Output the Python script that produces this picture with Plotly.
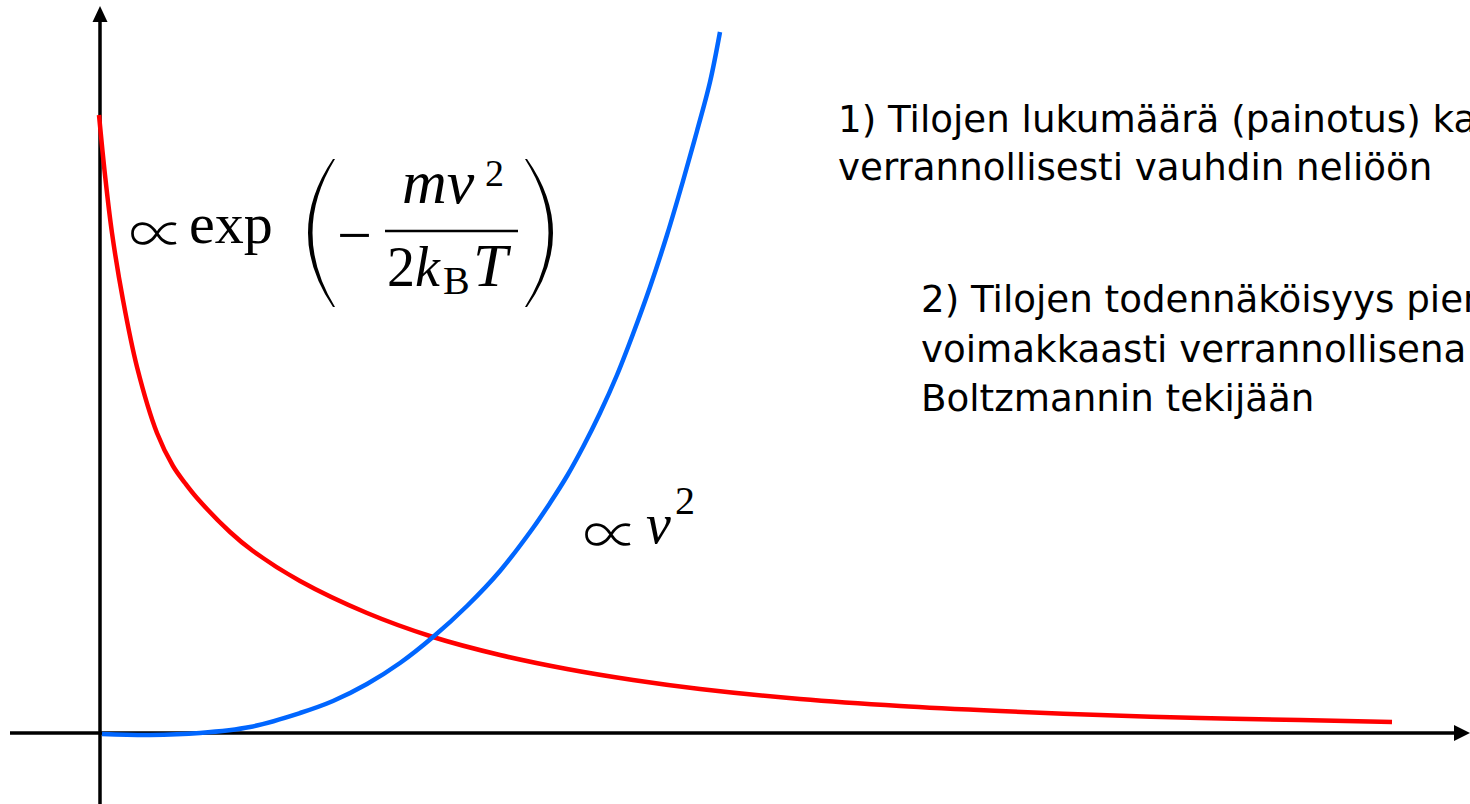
import plotly.graph_objects as go

# Canvas and origin of the sketch axes (in screen pixels)
W, H = 1470, 804
X0, Y0 = 100, 733

# Boltzmann factor  ~ exp(-mv^2 / 2kT)  (red)
v_boltz = [-1, 5, 12, 23, 37, 57, 73, 85, 97, 130, 153, 200, 267, 333,
           400, 467, 533, 600, 700, 800, 900, 1000, 1100, 1200, 1292]
f_boltz = [618, 558, 500, 433, 366, 300, 267, 250, 235, 201, 182, 152, 120, 96,
           78, 64, 53, 44, 34, 27, 22, 18, 15, 13, 11]

# Number of states  ~ v^2  (blue)
v_states = [2, 50, 100, 150, 200, 233, 267, 300, 333, 367, 400, 433, 450,
            467, 483, 500, 517, 533, 550, 567, 583, 597, 610, 620]
f_states = [-1, -2, 0, 6, 20, 32, 49, 70, 96, 127, 162, 205, 230,
            257, 286, 320, 358, 399, 446, 498, 552, 602, 651, 701]

# Explanatory notes
note1 = ["1) Tilojen lukumäärä (painotus) kasvaa",
         "verrannollisesti vauhdin neliöön"]
note2 = ["2) Tilojen todennäköisyys pienenee",
         "voimakkaasti verrannollisena",
         "Boltzmannin tekijään"]

SANS = "DejaVu Sans"
SERIF = "Liberation Serif, DejaVu Serif, serif"
MATHSYM = "Noto Sans CJK JP, DejaVu Serif"


def fx(px):
    return px - X0


def fy(py):
    return Y0 - py


def label(text, px, base, size, family=SERIF, weight=None):
    # place text by its left edge and baseline (screen pixels)
    font = dict(size=size, family=family, color="black")
    if weight:
        font["weight"] = weight
    return dict(x=fx(px), y=fy(base - 0.34 * size), xref="x", yref="y",
                text=text, showarrow=False, xanchor="left", yanchor="middle",
                font=font)


def paren(x_end, x_mid_out, x_mid_in, x_end_in, top, bottom):
    # filled quadratic outline of a tall bracket
    mid = (top + bottom) / 2
    c_out = 2 * x_mid_out - x_end
    c_in = 2 * x_mid_in - x_end_in
    return (f"M {fx(x_end)},{fy(top)} Q {fx(c_out)},{fy(mid)} {fx(x_end)},{fy(bottom)} "
            f"L {fx(x_end_in)},{fy(bottom)} Q {fx(c_in)},{fy(mid)} {fx(x_end_in)},{fy(top)} Z")


fig = go.Figure()
fig.add_trace(go.Scatter(x=v_boltz, y=f_boltz, mode="lines",
                         line=dict(color="#ff0000", width=4.5, shape="spline", smoothing=1.0),
                         hoverinfo="skip"))
fig.add_trace(go.Scatter(x=v_states, y=f_states, mode="lines",
                         line=dict(color="#0066ff", width=4.5, shape="spline", smoothing=1.0),
                         hoverinfo="skip"))

shapes = [
    # horizontal axis with arrow
    dict(type="line", x0=fx(10), y0=fy(733), x1=fx(1458), y1=fy(733),
         line=dict(color="black", width=3.5), layer="below"),
    dict(type="path", path=f"M {fx(1454)},{fy(725)} L {fx(1470)},{fy(733)} L {fx(1454)},{fy(741)} Z",
         fillcolor="black", line=dict(width=0), layer="below"),
    # vertical axis with arrow
    dict(type="line", x0=fx(100), y0=fy(812), x1=fx(100), y1=fy(18),
         line=dict(color="black", width=3.5), layer="below"),
    dict(type="path", path=f"M {fx(92.5)},{fy(22)} L {fx(100)},{fy(6)} L {fx(107.5)},{fy(22)} Z",
         fillcolor="black", line=dict(width=0), layer="below"),
    # big parentheses of the exponential
    dict(type="path", path=paren(333, 308, 312.5, 335, 159, 307),
         fillcolor="black", line=dict(width=0)),
    dict(type="path", path=paren(527, 553, 548.5, 525, 159, 307),
         fillcolor="black", line=dict(width=0)),
    # fraction bar
    dict(type="line", x0=fx(385), y0=fy(231), x1=fx(518), y1=fy(231),
         line=dict(color="black", width=2.5)),
]

annotations = [
    # ∝ exp( -mv^2 / 2 k_B T )
    label("∝", 127, 249, 56, MATHSYM, 300),
    label("exp", 187, 243, 58),
    label("−", 335, 256, 62),
    label("<i>mv</i>", 400, 203, 62),
    label("2", 483, 186, 38),
    label("2<i>k</i>", 385, 286, 56),
    label("B", 441, 294, 40),
    label("<i>T</i>", 471, 286, 62),
    # ∝ v^2
    label("∝", 581, 550, 56, MATHSYM, 300),
    label("<i>v</i>", 644, 543, 56),
    label("2", 673, 514, 40),
]
for i, line in enumerate(note1):
    annotations.append(label(line, 836, 132 + 48 * i, 37.2, SANS))
for i, line in enumerate(note2):
    annotations.append(label(line, 919, 312 + 49.5 * i, 37.2, SANS))

fig.update_layout(
    width=W, height=H,
    margin=dict(l=0, r=0, t=0, b=0),
    paper_bgcolor="white", plot_bgcolor="white",
    showlegend=False,
    xaxis=dict(range=[fx(0), fx(W)], visible=False, fixedrange=True),
    yaxis=dict(range=[fy(H), fy(0)], visible=False, fixedrange=True),
    shapes=shapes,
    annotations=annotations,
)

fig.write_html("out.html", config={"displayModeBar": False})
